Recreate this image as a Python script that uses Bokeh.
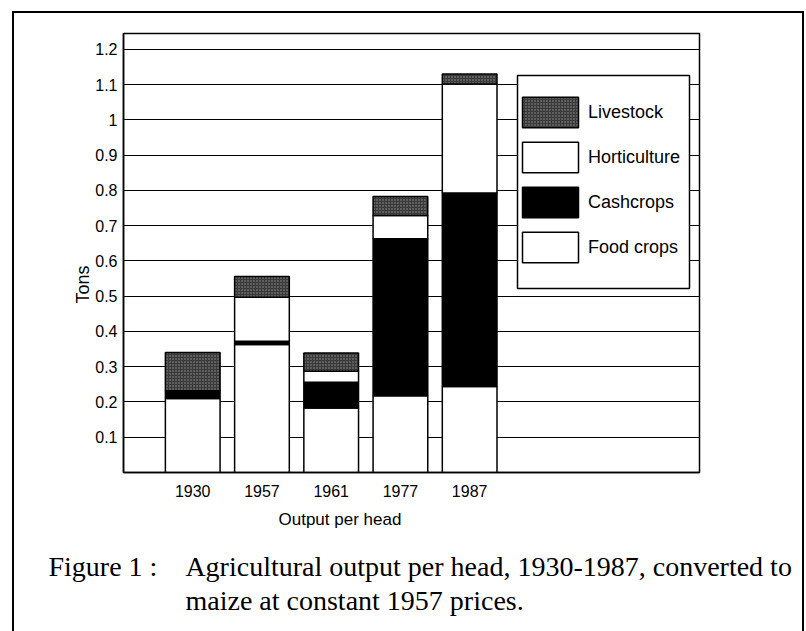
import math
from bokeh.plotting import figure
from bokeh.models import (ColumnDataSource, Range1d, FixedTicker, Legend,
                          LegendItem, BoxAnnotation, Title)
from bokeh.transform import stack
from bokeh.embed import file_html
from bokeh.resources import INLINE

# ---- data (tons per head, maize equivalent) ----
years = ["1930", "1957", "1961", "1977", "1987"]
food_crops = [0.210, 0.363, 0.183, 0.218, 0.244]
cashcrops = [0.022, 0.009, 0.073, 0.445, 0.549]
horticulture = [0.000, 0.125, 0.031, 0.066, 0.309]
livestock = [0.108, 0.059, 0.052, 0.054, 0.028]
y_ticks = [0.1, 0.2, 0.3, 0.4, 0.5, 0.6, 0.7, 0.8, 0.9, 1.0, 1.1, 1.2]
y_tick_labels = ["0.1", "0.2", "0.3", "0.4", "0.5", "0.6", "0.7", "0.8", "0.9", "1", "1.1", "1.2"]

xpos = [i + 1 for i in range(len(years))]
source = ColumnDataSource(dict(x=xpos, food=food_crops, cash=cashcrops,
                               hort=horticulture, live=livestock))

SANS = "Liberation Sans"
SERIF = "Liberation Serif"

p = figure(width=806, height=631, output_backend="svg", toolbar_location=None,
           x_range=Range1d(0, 8.32), y_range=Range1d(0, 1.245),
           min_border_left=123, min_border_right=107, min_border_top=33,
           min_border_bottom=159)
p.background_fill_color = "white"
p.border_fill_alpha = 0
p.outline_line_color = "black"
p.outline_line_width = 1.5
# outer frame around the whole figure (drawn behind the transparent border area)
p.styles = {
    "background-color": "white",
    "background-image": "linear-gradient(#000, #000), linear-gradient(#000, #000), "
                        "linear-gradient(#000, #000)",
    "background-size": "2px 700px, 792px 2px, 2px 700px",
    "background-position": "12px 11px, 12px 11px, 802px 11px",
    "background-repeat": "no-repeat",
}

W = 0.79
r_food = p.vbar(x="x", width=W, bottom=0, top=stack("food"), source=source,
                fill_color="white", line_color="black", line_width=1.5)
r_cash = p.vbar(x="x", width=W, bottom=stack("food"), top=stack("food", "cash"),
                source=source, fill_color="black", line_color="black", line_width=1.5)
r_hort = p.vbar(x="x", width=W, bottom=stack("food", "cash"),
                top=stack("food", "cash", "hort"), source=source,
                fill_color="white", line_color="black", line_width=1.5)
r_live = p.vbar(x="x", width=W, bottom=stack("food", "cash", "hort"),
                top=stack("food", "cash", "hort", "live"), source=source,
                fill_color="#3a3a3a", line_color="black", line_width=1.5,
                hatch_pattern="dot", hatch_color="white", hatch_scale=3,
                hatch_weight=1, hatch_alpha=0.45)

# axes
p.xaxis.ticker = FixedTicker(ticks=xpos)
p.xaxis.major_label_overrides = {x: y for x, y in zip(xpos, years)}
p.yaxis.ticker = FixedTicker(ticks=y_ticks)
p.yaxis.major_label_overrides = {t: l for t, l in zip(y_ticks, y_tick_labels)}
for ax in (p.xaxis[0], p.yaxis[0]):
    ax.major_tick_line_color = None
    ax.minor_tick_line_color = None
    ax.major_tick_in = 0
    ax.major_tick_out = 0
    ax.axis_line_color = "black"
    ax.axis_line_width = 1.5
    ax.major_label_text_font = SANS
    ax.major_label_text_font_size = "16px"
    ax.major_label_text_color = "black"
p.xaxis.major_label_standoff = 12
p.yaxis.major_label_standoff = 6

p.xgrid.grid_line_color = None
p.ygrid.grid_line_color = "black"
p.ygrid.grid_line_width = 1

# axis titles as side-panel titles
p.add_layout(Title(text="Tons", align="left", offset=169, standoff=0,
                   text_font=SANS, text_font_size="18px", text_font_style="normal",
                   text_color="black"), "left")
p.add_layout(Title(text="Output per head", align="left", offset=155, standoff=17,
                   text_font=SANS, text_font_size="17px", text_font_style="normal",
                   text_color="black"), "below")
# caption
p.add_layout(Title(text="Figure 1 :\u2002\u2002Agricultural output per head, 1930-1987, converted to",
                   align="left", offset=-75, standoff=22,
                   text_font=SERIF, text_font_size="28px", text_font_style="normal",
                   text_color="black"), "below")
p.add_layout(Title(text="maize at constant 1957 prices.",
                   align="left", offset=62, standoff=-19,
                   text_font=SERIF, text_font_size="28px", text_font_style="normal",
                   text_color="black"), "below")

# legend box
p.add_layout(BoxAnnotation(left=394, right=566, top=397, bottom=184,
                           left_units="screen", right_units="screen",
                           top_units="screen", bottom_units="screen",
                           fill_color="white", fill_alpha=1.0,
                           line_color="black", line_alpha=1.0, line_width=1.5))

legend = Legend(items=[
    LegendItem(label="Livestock", renderers=[r_live]),
    LegendItem(label="Horticulture", renderers=[r_hort]),
    LegendItem(label="Cashcrops", renderers=[r_cash]),
    LegendItem(label="Food crops", renderers=[r_food]),
], location=(392, 206), padding=0, margin=0, spacing=7,
    glyph_width=70, glyph_height=38, label_standoff=3,
    label_text_font=SANS, label_text_font_size="18px", label_text_color="black",
    border_line_color=None, background_fill_alpha=0)
p.add_layout(legend)

open("out.html", "w").write(file_html(p, INLINE))
